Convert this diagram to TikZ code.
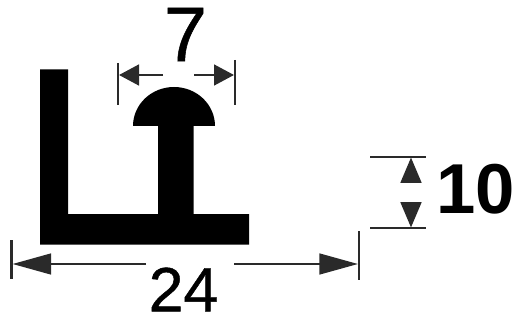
\documentclass[tikz,border=0pt]{standalone}
\usepackage{fontspec}
\setmainfont{Liberation Sans}
\newfontfamily\dimfont[FakeBold=0.7]{Liberation Sans}
\usetikzlibrary{arrows.meta}
\definecolor{dimgray}{HTML}{2A2A2A}
\tikzset{
    ticksty/.style={draw=dimgray,line width=2pt},
    dimsty/.style={draw=dimgray,line width=2pt,-{Triangle[length=#1,width=15.5pt]}},
    dimsty/.default=15pt,
    labelsty/.style={anchor=center,inner sep=0pt,text=black},
}
\begin{document}
\begin{tikzpicture}[x=0.75pt,y=-0.75pt]
    \useasboundingbox (0,0) rectangle (518,321);
    %% profile
    \fill[black] (40,69.5) -- (68,69.5) -- (68,214) -- (158,214) -- (158,126) -- (133,126)
        arc[start angle=180,end angle=360,x radius=41,y radius=39] -- (193.5,126) -- (193.5,214)
        -- (249,214) -- (249,244.5) -- (40,244.5) -- cycle;
    %% labels
    \node[labelsty,font=\fontsize{58}{58}\dimfont] (seven) at (185.5,34.5) {7};
    \node[labelsty,font=\fontsize{47}{47}\dimfont] (twentyfour) at (183.5,289.5) {24};
    \node[labelsty,font=\fontsize{53}{53}\selectfont\bfseries] (ten) at (475.5,189) {10};
    %% ends of the dimension lines
    \foreach \n/\x/\y in {sevenA/118/63,sevenB/118/105,sevenC/235/60,sevenD/235/105,
        fourA/11.5/240,fourB/11.5/279,fourC/359/231,fourD/359/280,
        tenA/370/157,tenB/426/157,tenC/370/228,tenD/426/228} \coordinate (\n) at (\x,\y);
    \foreach \a/\b in {sevenA/sevenB,sevenC/sevenD,fourA/fourB,fourC/fourD,tenA/tenB,tenC/tenD}
        \draw[ticksty] (\a) -- (\b);
    %% arrows
    \foreach \n/\x/\y in {sevenL/163/75,sevenM/119/75,sevenR/194/75,sevenS/234/75,
        fourL/146/264,fourM/12.5/264,fourR/234/264,fourS/358/264,
        tenU/411/183,tenV/411/157.5,tenW/411/202,tenX/411/227.5} \coordinate (\n) at (\x,\y);
    \foreach \a/\b/\l in {sevenL/sevenM/15pt,sevenR/sevenS/15pt,fourL/fourM/29pt,fourR/fourS/29pt,tenU/tenV/19pt,tenW/tenX/19pt}
        \draw[dimsty=\l] (\a) -- (\b);
\end{tikzpicture}
\end{document}
